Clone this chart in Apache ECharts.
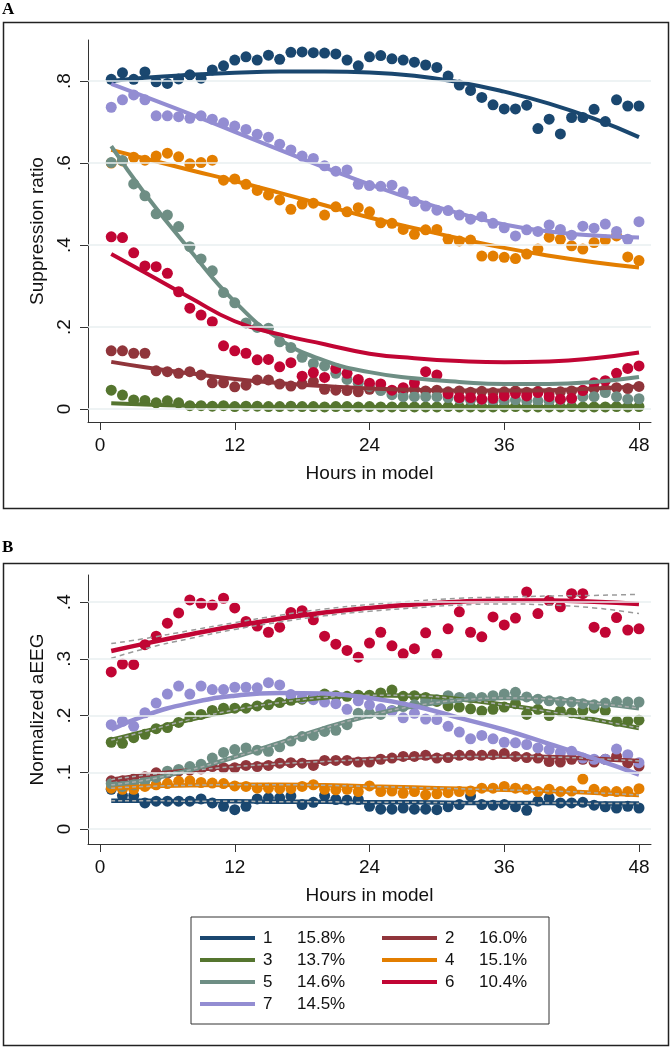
<!DOCTYPE html>
<html>
<head>
<meta charset="utf-8">
<script src="https://cdn.jsdelivr.net/npm/echarts@6/dist/echarts.min.js"></script>
<style>
html, body { margin: 0; padding: 0; background: #fff; }
#main { width: 672px; height: 1050px; }
</style>
</head>
<body>
<div id="main"></div>
<script>
// hours of the observed points and knots of the fitted curves
var hours = [1,2,3,4,5,6,7,8,9,10,11,12,13,14,15,16,17,18,19,20,21,22,23,24,
             25,26,27,28,29,30,31,32,33,34,35,36,37,38,39,40,41,42,43,44,45,46,47,48];
var fitHours = [1,4,8,12,16,20,24,28,32,36,40,44,48];
var tickHours = [0,12,24,36,48];
var ticksA = [0,0.2,0.4,0.6,0.8];
var ticksB = [0,0.1,0.2,0.3,0.4];

var groupNames = ['1','2','3','4','5','6','7'];
var groupShares = ['15.8%','16.0%','13.7%','15.1%','14.6%','10.4%','14.5%'];

// A: suppression ratio, dots
var dotsA1 = [.804,.820,.804,.822,.798,.794,.805,.815,.807,.827,.837,.851,.859,.851,.863,.853,.870,.871,.869,.868,.866,.851,.837,.859,
              .862,.854,.851,.846,.839,.833,.812,.790,.777,.760,.742,.732,.732,.741,.684,.707,.671,.711,.711,.731,.701,.754,.739,.739];
var dotsA2 = [.142,.142,.136,.136,.093,.091,.087,.091,.083,.064,.064,.054,.058,.071,.071,.061,.056,.061,.067,.048,.046,.045,.042,.048,
              .047,.043,.045,.048,.044,.046,.042,.044,.041,.043,.040,.042,.044,.041,.043,.040,.042,.044,.046,.050,.048,.052,.050,.055];
var dotsA3 = [.046,.034,.022,.021,.015,.020,.015,.008,.008,.007,.008,.006,.007,.007,.006,.006,.007,.006,.006,.005,.006,.006,.005,.006,
              .005,.005,.006,.005,.005,.005,.006,.005,.005,.005,.005,.005,.006,.005,.005,.005,.005,.006,.005,.005,.005,.006,.005,.006];
var dotsA4 = [.600,.605,.614,.607,.617,.624,.615,.598,.601,.607,.558,.561,.548,.533,.522,.510,.487,.500,.502,.473,.493,.481,.491,.481,
              .454,.453,.438,.426,.437,.438,.414,.410,.412,.373,.373,.370,.367,.378,.390,.419,.414,.398,.390,.406,.412,.422,.371,.362];
var dotsA5 = [.601,.606,.549,.520,.476,.473,.445,.396,.366,.337,.284,.259,.210,.199,.197,.164,.150,.126,.111,.105,.087,.072,.063,.055,
              .045,.035,.030,.030,.030,.030,.028,.025,.022,.022,.020,.020,.022,.020,.020,.020,.022,.025,.030,.030,.040,.030,.024,.025];
var dotsA6 = [.420,.418,.381,.349,.347,.331,.286,.246,.229,.213,.154,.142,.136,.120,.121,.103,.113,.080,.089,.077,.099,.087,.072,.063,
              .061,.046,.052,.064,.091,.083,.037,.028,.028,.024,.026,.032,.038,.032,.040,.030,.024,.026,.045,.064,.069,.087,.099,.105];
var dotsA7 = [.736,.754,.766,.754,.715,.715,.713,.709,.715,.707,.698,.690,.682,.670,.663,.646,.632,.617,.611,.593,.580,.583,.548,.545,
              .543,.546,.530,.506,.495,.485,.484,.473,.463,.469,.453,.442,.422,.437,.433,.449,.438,.424,.446,.441,.451,.433,.414,.457];

// A: fitted curves at fitHours
var fitA1 = [.800,.808,.815,.820,.823,.823,.821,.813,.797,.774,.745,.708,.663];
var fitA2 = [.115,.102,.087,.073,.063,.056,.050,.047,.045,.045,.046,.050,.055];
var fitA3 = [.014,.011,.008,.006,.005,.005,.005,.005,.005,.005,.005,.006,.007];
var fitA4 = [.632,.611,.583,.556,.527,.497,.467,.441,.416,.393,.374,.358,.345];
var fitA5 = [.641,.525,.388,.262,.170,.118,.090,.075,.066,.061,.061,.066,.078];
var fitA6 = [.378,.333,.272,.214,.182,.158,.135,.124,.117,.114,.116,.124,.138];
var fitA7 = [.793,.762,.720,.676,.632,.589,.548,.510,.477,.450,.433,.423,.418];

// B: normalized aEEG, dots
var dotsB1 = [.070,.059,.059,.046,.049,.049,.049,.049,.053,.046,.040,.034,.040,.053,.055,.055,.058,.043,.047,.059,.052,.051,.052,.040,
              .035,.035,.037,.035,.035,.034,.039,.043,.058,.043,.042,.043,.039,.033,.049,.055,.046,.046,.047,.042,.039,.037,.040,.037];
var dotsB2 = [.085,.085,.088,.092,.099,.098,.102,.104,.106,.110,.108,.108,.112,.110,.112,.116,.117,.116,.112,.121,.121,.121,.118,.118,
              .123,.125,.128,.128,.130,.125,.126,.130,.130,.130,.131,.133,.128,.126,.125,.119,.118,.123,.123,.118,.123,.128,.116,.111];
var dotsB3 = [.153,.151,.161,.167,.177,.179,.188,.198,.202,.209,.213,.213,.213,.217,.219,.223,.227,.229,.232,.238,.235,.234,.236,.236,
              .240,.245,.234,.235,.232,.225,.217,.215,.212,.208,.211,.215,.221,.202,.211,.200,.208,.205,.209,.213,.209,.190,.190,.192];
var dotsB4 = [.072,.070,.070,.075,.078,.080,.084,.085,.082,.081,.080,.076,.075,.072,.072,.071,.071,.075,.078,.070,.069,.070,.066,.076,
              .066,.067,.063,.066,.060,.062,.064,.066,.067,.072,.072,.075,.072,.070,.066,.070,.066,.067,.088,.070,.066,.066,.066,.071];
var dotsB5 = [.080,.075,.078,.085,.091,.102,.105,.110,.114,.125,.135,.140,.143,.139,.137,.145,.155,.163,.165,.172,.174,.184,.204,.204,
              .202,.209,.216,.219,.225,.228,.235,.232,.232,.232,.235,.238,.241,.233,.229,.226,.225,.224,.221,.219,.222,.225,.224,.224];
var dotsB6 = [.277,.291,.290,.325,.340,.363,.381,.404,.398,.395,.407,.390,.366,.358,.347,.356,.382,.385,.369,.340,.326,.315,.303,.328,
              .347,.323,.309,.318,.346,.308,.353,.383,.347,.339,.374,.360,.372,.418,.380,.403,.392,.415,.415,.356,.347,.373,.351,.353];
var dotsB7 = [.184,.190,.181,.205,.222,.238,.252,.238,.252,.246,.246,.250,.250,.249,.258,.254,.237,.231,.228,.224,.221,.211,.226,.219,
              .212,.208,.196,.204,.194,.193,.181,.171,.159,.165,.159,.153,.152,.149,.143,.140,.135,.137,.125,.123,.123,.141,.131,.117];

// B: fitted curves at fitHours, plus the band of group 6
var fitB1 = [.050,.050,.049,.049,.048,.048,.047,.047,.046,.046,.046,.045,.045];
var fitB2 = [.087,.095,.103,.110,.115,.119,.123,.126,.128,.128,.127,.124,.120];
var fitB3 = [.157,.172,.193,.210,.223,.232,.236,.235,.229,.219,.207,.193,.178];
var fitB4 = [.072,.075,.077,.078,.078,.077,.075,.073,.071,.069,.067,.064,.060];
var fitB5 = [.078,.086,.104,.127,.152,.178,.200,.217,.227,.231,.229,.222,.213];
var fitB6 = [.314,.327,.343,.358,.371,.382,.390,.396,.401,.403,.403,.401,.397];
var fitB7 = [.175,.200,.222,.235,.240,.239,.231,.217,.196,.175,.150,.124,.096];
var bandB6Upper = [.327,.336,.350,.364,.377,.388,.396,.402,.407,.409,.411,.412,.414];
var bandB6Lower = [.301,.318,.336,.352,.365,.376,.384,.390,.395,.397,.395,.390,.380];

var colors = ['#1a476f','#90353b','#55752f','#e37e00','#6e8e84','#c10534','#938dd2'];
var font = '"Liberation Sans", Arial, Helvetica, sans-serif';
var dotsA = [dotsA1,dotsA2,dotsA3,dotsA4,dotsA5,dotsA6,dotsA7];
var fitsA = [fitA1,fitA2,fitA3,fitA4,fitA5,fitA6,fitA7];
var dotsB = [dotsB1,dotsB2,dotsB3,dotsB4,dotsB5,dotsB6,dotsB7];
var fitsB = [fitB1,fitB2,fitB3,fitB4,fitB5,fitB6,fitB7];

function pairs(xs, ys) {
	return xs.map(function (x, i) { return [x, ys[i]]; });
}
function yFmt(v) {
	if (v === 0) return '0';
	return String(+v.toFixed(1)).replace(/^0\./, '.');
}
function gridLines(ticks) {
	return {
		silent: true, symbol: 'none', animation: false,
		label: {show: false},
		lineStyle: {color: '#e9eff1', width: 1.5, type: 'solid'},
		data: ticks.map(function (v) { return {yAxis: v}; })
	};
}

var series = [];
// panel A
for (var i = 0; i < 7; i++) {
	var s = {
		name: 'dotsA' + groupNames[i], type: 'scatter', xAxisIndex: 0, yAxisIndex: 0,
		data: pairs(hours, dotsA[i]), symbolSize: 11,
		itemStyle: {color: colors[i], opacity: 1}, silent: true
	};
	if (i === 0) s.markLine = gridLines(ticksA);
	series.push(s);
	series.push({
		name: groupNames[i], type: 'line', xAxisIndex: 0, yAxisIndex: 0,
		data: pairs(fitHours, fitsA[i]), smooth: true, showSymbol: false,
		color: colors[i], lineStyle: {color: colors[i], width: 4}, silent: true
	});
}
// panel B
for (var j = 0; j < 7; j++) {
	var t = {
		name: 'dotsB' + groupNames[j], type: 'scatter', xAxisIndex: 1, yAxisIndex: 1,
		data: pairs(hours, dotsB[j]), symbolSize: 11,
		itemStyle: {color: colors[j], opacity: 1}, silent: true
	};
	if (j === 0) t.markLine = gridLines(ticksB);
	series.push(t);
	series.push({
		name: groupNames[j], type: 'line', xAxisIndex: 1, yAxisIndex: 1,
		data: pairs(fitHours, fitsB[j]), smooth: true, showSymbol: false,
		color: colors[j], lineStyle: {color: colors[j], width: 4.5}, silent: true
	});
	if (j < 5) {
		series.push({
			name: 'ciB' + groupNames[j], type: 'line', xAxisIndex: 1, yAxisIndex: 1,
			data: pairs(fitHours, fitsB[j]), smooth: true, showSymbol: false,
			lineStyle: {color: '#a8acac', width: 1.5, type: [4, 3]}, silent: true
		});
	}
}
[bandB6Upper, bandB6Lower].forEach(function (band) {
	series.push({
		name: 'ciB6', type: 'line', xAxisIndex: 1, yAxisIndex: 1,
		data: pairs(fitHours, band), smooth: true, showSymbol: false,
		lineStyle: {color: '#9a9a9a', width: 1.5, type: [5, 4]}, silent: true
	});
});

function xAxisOf(gi, gap) {
	return {
		gridIndex: gi, type: 'value', min: -1.07, max: 49.07,
		name: 'Hours in model', nameLocation: 'middle', nameGap: gap,
		nameTextStyle: {fontFamily: font, fontSize: 19, color: '#111'},
		axisLine: {show: true, onZero: false, lineStyle: {color: '#333', width: 1}},
		axisTick: {show: true, customValues: tickHours, length: 8, lineStyle: {color: '#333', width: 1}},
		axisLabel: {show: true, customValues: tickHours, fontFamily: font, fontSize: 19, color: '#111', margin: 14},
		splitLine: {show: false}
	};
}
function yAxisOf(gi, mn, mx, ticks, title) {
	return {
		gridIndex: gi, type: 'value', min: mn, max: mx,
		name: title, nameLocation: 'middle', nameGap: 39,
		nameTextStyle: {fontFamily: font, fontSize: 19, color: '#111'},
		axisLine: {show: true, onZero: false, lineStyle: {color: '#333', width: 1}},
		axisTick: {show: true, customValues: ticks, length: 8, lineStyle: {color: '#333', width: 1}},
		axisLabel: {show: true, customValues: ticks, formatter: yFmt, rotate: 90,
			fontFamily: font, fontSize: 19, color: '#111', margin: 14},
		splitLine: {show: false}
	};
}

var shareOf = {};
groupNames.forEach(function (n, k) { shareOf[n] = groupShares[k]; });

var legendRich = {
	n: {fontFamily: font, fontSize: 17, color: '#111', width: 34, height: 22, lineHeight: 22, padding: [0, 0, 0, 3]},
	p: {fontFamily: font, fontSize: 17, color: '#111', width: 85, height: 22, lineHeight: 22},
	q: {fontFamily: font, fontSize: 17, color: '#111', width: 70, height: 22, lineHeight: 22}
};

var option = {
	animation: false,
	backgroundColor: '#fff',
	grid: [
		{left: 88, top: 40, width: 563, height: 382},
		{left: 88, top: 575, width: 563, height: 269}
	],
	xAxis: [xAxisOf(0, 42), xAxisOf(1, 42)],
	yAxis: [
		yAxisOf(0, -0.0317, 0.9, ticksA, 'Suppression ratio'),
		yAxisOf(1, -0.0265, 0.448, ticksB, 'Normalized aEEG')
	],
	legend: {
		data: groupNames.map(function (n) { return {name: n, icon: 'rect'}; }),
		left: 191, top: 917, width: 360,
		padding: [10, 0, 9, 9],
		itemGap: 0, itemWidth: 55, itemHeight: 4,
		borderColor: '#333', borderWidth: 1, borderRadius: 0,
		selectedMode: false,
		formatter: function (name) {
			var odd = groupNames.indexOf(name) % 2 === 0;
			return '{n|' + name + '}{' + (odd ? 'p' : 'q') + '|' + shareOf[name] + '}';
		},
		textStyle: {
			fontFamily: font, fontSize: 17, color: '#111', lineHeight: 22, height: 22,
			rich: legendRich
		}
	},
	graphic: [
		{type: 'rect', shape: {x: 3.5, y: 22.5, width: 665, height: 486},
			style: {fill: 'none', stroke: '#222', lineWidth: 1.5}, silent: true},
		{type: 'rect', shape: {x: 3.5, y: 563.5, width: 665, height: 482},
			style: {fill: 'none', stroke: '#222', lineWidth: 1.5}, silent: true},
		{type: 'text', left: 2, top: 1,
			style: {text: 'A', font: 'bold 17px "Liberation Serif", "Times New Roman", serif', fill: '#000'}},
		{type: 'text', left: 2, top: 539,
			style: {text: 'B', font: 'bold 17px "Liberation Serif", "Times New Roman", serif', fill: '#000'}}
	],
	series: series
};

var myChart = echarts.init(document.getElementById('main'));
myChart.setOption(option);
</script>
</body>
</html>
